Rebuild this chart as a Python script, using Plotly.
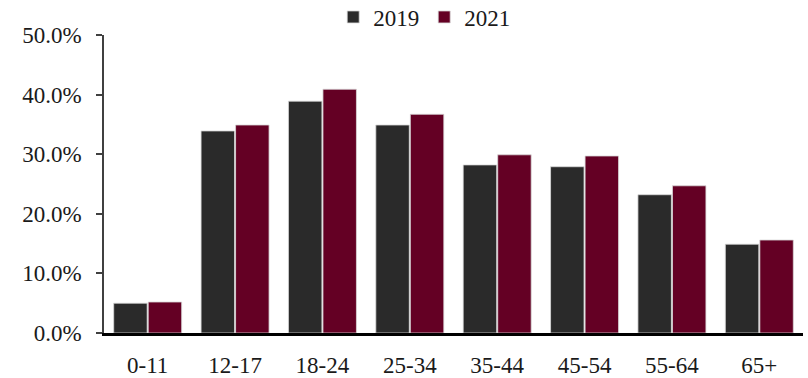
import plotly.graph_objects as go

# Age groups and share values (percent) for each year
age_groups = ["0-11", "12-17", "18-24", "25-34", "35-44", "45-54", "55-64", "65+"]
share_2019 = [5.0, 33.9, 38.9, 34.9, 28.2, 27.9, 23.2, 14.9]
share_2021 = [5.2, 34.9, 40.9, 36.7, 29.9, 29.7, 24.7, 15.6]
y_ticks = [0, 10, 20, 30, 40, 50]
y_tick_labels = ["0.0%", "10.0%", "20.0%", "30.0%", "40.0%", "50.0%"]

FONT = "Liberation Serif"

fig = go.Figure()
fig.add_trace(go.Bar(
    name="2019", x=age_groups, y=share_2019,
    marker=dict(color="#2a2a2a", line=dict(color="#d9d9d9", width=0.8)),
))
fig.add_trace(go.Bar(
    name="2021", x=age_groups, y=share_2021,
    marker=dict(color="#640024", line=dict(color="#d9d9d9", width=0.8)),
))

fig.update_layout(
    width=808, height=378,
    margin=dict(l=104, r=5, t=35, b=45, autoexpand=False),
    paper_bgcolor="white", plot_bgcolor="white",
    barmode="group", bargap=0.21, bargroupgap=0.03,
    font=dict(family=FONT, size=23, color="#1a1a1a"),
    legend=dict(
        orientation="h", xref="container", x=0.525, xanchor="center",
        yref="container", y=0.955, yanchor="middle",
        font=dict(family=FONT, size=23), itemwidth=30,
        traceorder="normal",
    ),
    showlegend=True,
)
fig.update_xaxes(
    showline=True, linecolor="black", linewidth=2.5,
    ticks="", showgrid=False, tickfont=dict(size=23),
    ticklabelstandoff=10,
)
fig.update_yaxes(
    range=[0, 50], tickvals=y_ticks, ticktext=y_tick_labels,
    showline=True, linecolor="#404040", linewidth=1.5,
    ticks="outside", ticklen=6, tickcolor="#404040", tickwidth=1.5,
    showgrid=False, zeroline=False, tickfont=dict(size=23),
    ticklabelstandoff=10,
)

fig.write_html("out.html")
